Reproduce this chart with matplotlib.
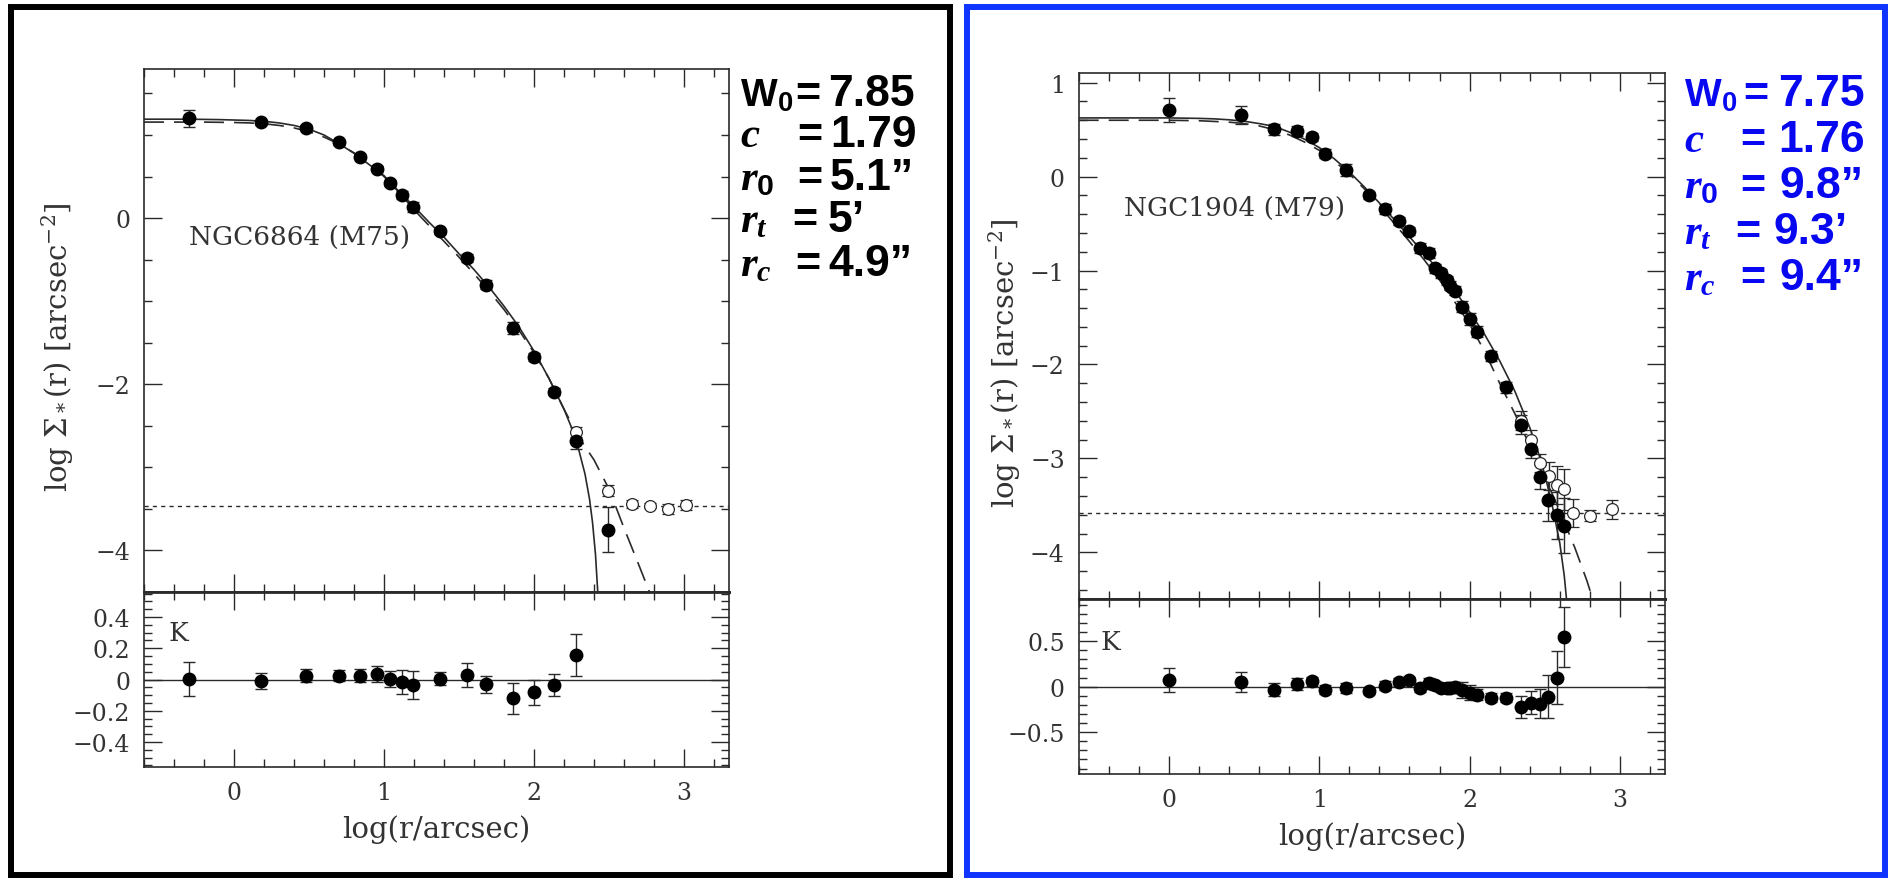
import matplotlib
matplotlib.use("Agg")
import matplotlib.pyplot as plt
from matplotlib.patches import Rectangle
from matplotlib.ticker import MultipleLocator, FuncFormatter

plt.rcParams['font.family'] = ['DejaVu Serif']
plt.rcParams['mathtext.fontset'] = 'custom'
plt.rcParams['mathtext.rm'] = 'Liberation Sans:bold'
plt.rcParams['mathtext.bf'] = 'Liberation Sans:bold'
plt.rcParams['mathtext.it'] = 'Liberation Serif:italic:bold'

# ---------------- NGC6864 (M75) ----------------
m75_logr = [-0.30, 0.18, 0.48, 0.70, 0.84, 0.95, 1.04, 1.12, 1.19, 1.37,
            1.55, 1.68, 1.86, 2.00, 2.13, 2.28, 2.49]
m75_sig = [1.20, 1.155, 1.085, 0.915, 0.74, 0.595, 0.42, 0.28, 0.13, -0.16,
           -0.48, -0.80, -1.32, -1.67, -2.09, -2.68, -3.75]
m75_err = [0.10, 0.03, 0.03, 0.03, 0.03, 0.03, 0.04, 0.05, 0.06, 0.03,
           0.05, 0.05, 0.07, 0.05, 0.04, 0.10, 0.27]
m75_open_logr = [2.28, 2.49, 2.65, 2.77, 2.89, 3.01]
m75_open_sig = [-2.58, -3.28, -3.44, -3.46, -3.50, -3.45]
m75_open_err = [0.06, 0.07, 0.05, 0.03, 0.06, 0.06]
m75_res = [0.005, -0.01, 0.025, 0.025, 0.025, 0.035, 0.005, -0.015, -0.035,
           0.005, 0.03, -0.03, -0.12, -0.08, -0.035, 0.155]
m75_res_err = [0.11, 0.05, 0.04, 0.035, 0.04, 0.05, 0.05, 0.075, 0.09,
               0.04, 0.075, 0.055, 0.10, 0.08, 0.07, 0.135]
m75_king_x = [-0.6, -0.3, -0.1, 0.0, 0.1, 0.2, 0.3, 0.4, 0.5, 0.6, 0.7, 0.8,
              0.9, 1.0, 1.1, 1.2, 1.3, 1.4, 1.5, 1.6, 1.7, 1.8, 1.9, 2.0,
              2.1, 2.2, 2.25, 2.3, 2.34, 2.37, 2.39, 2.41, 2.425]
m75_king_y = [1.19, 1.19, 1.185, 1.18, 1.175, 1.165, 1.145, 1.115, 1.07,
              1.0, 0.895, 0.78, 0.645, 0.51, 0.32, 0.14, -0.05, -0.23,
              -0.43, -0.62, -0.83, -1.06, -1.31, -1.60, -1.93, -2.30,
              -2.52, -2.80, -3.08, -3.38, -3.66, -4.05, -4.5]
m75_wil_x = [-0.6, -0.2, 0.0, 0.1, 0.2, 0.3, 0.4, 0.5, 0.6, 0.7, 0.8, 0.9,
             1.0, 1.1, 1.2, 1.3, 1.4, 1.5, 1.6, 1.7, 1.8, 1.9, 2.0, 2.1,
             2.2, 2.3, 2.4, 2.5, 2.6, 2.7, 2.77]
m75_wil_y = [1.155, 1.155, 1.15, 1.145, 1.135, 1.115, 1.085, 1.04, 0.975,
             0.89, 0.785, 0.655, 0.50, 0.31, 0.10, -0.09, -0.28, -0.47,
             -0.67, -0.88, -1.10, -1.35, -1.62, -1.93, -2.30, -2.64, -2.91,
             -3.26, -3.73, -4.18, -4.5]
m75_bg = -3.47
m75_vals = ["7.85", "1.79", "5.1\u201d", "5\u2019", "4.9\u201d"]

# ---------------- NGC1904 (M79) ----------------
m79_logr = [0.00, 0.48, 0.70, 0.85, 0.95, 1.04, 1.18, 1.33, 1.44, 1.53,
            1.60, 1.67, 1.73, 1.77, 1.81, 1.85, 1.87, 1.90, 1.95, 2.00,
            2.05, 2.14, 2.24, 2.34, 2.41, 2.47, 2.52, 2.58, 2.63]
m79_sig = [0.71, 0.655, 0.505, 0.485, 0.42, 0.245, 0.07, -0.20, -0.345,
           -0.47, -0.58, -0.76, -0.815, -0.975, -1.03, -1.105, -1.16,
           -1.215, -1.385, -1.515, -1.65, -1.91, -2.245, -2.64, -2.895,
           -3.20, -3.445, -3.605, -3.715]
m79_err = [0.13, 0.10, 0.06, 0.05, 0.04, 0.05, 0.06, 0.04, 0.05, 0.04, 0.04,
           0.05, 0.05, 0.05, 0.05, 0.05, 0.05, 0.05, 0.06, 0.06, 0.06, 0.05,
           0.06, 0.10, 0.10, 0.13, 0.22, 0.25, 0.29]
m79_open_logr = [2.34, 2.41, 2.47, 2.53, 2.58, 2.63, 2.69, 2.80, 2.95]
m79_open_sig = [-2.60, -2.80, -3.05, -3.19, -3.285, -3.33, -3.58, -3.61, -3.54]
m79_open_err = [0.10, 0.10, 0.10, 0.15, 0.20, 0.22, 0.15, 0.06, 0.10]
m79_res = [0.07, 0.05, -0.035, 0.03, 0.06, -0.035, -0.015, -0.05, 0.01,
           0.05, 0.07, -0.01, 0.04, 0.015, -0.01, -0.01, -0.01, 0.0, -0.04,
           -0.065, -0.09, -0.12, -0.12, -0.22, -0.175, -0.19, -0.11, 0.10,
           0.55]
m79_res_err = [0.13, 0.11, 0.07, 0.07, 0.05, 0.05, 0.05, 0.03, 0.05, 0.04,
               0.04, 0.05, 0.05, 0.05, 0.05, 0.05, 0.05, 0.05, 0.09, 0.08,
               0.06, 0.05, 0.05, 0.12, 0.13, 0.16, 0.24, 0.29, 0.33]
m79_king_x = [-0.6, 0.0, 0.2, 0.3, 0.4, 0.5, 0.6, 0.7, 0.8, 0.9, 1.0, 1.1,
              1.2, 1.3, 1.4, 1.5, 1.6, 1.7, 1.8, 1.9, 2.0, 2.1, 2.2, 2.3,
              2.4, 2.45, 2.5, 2.55, 2.6, 2.63, 2.645]
m79_king_y = [0.625, 0.625, 0.62, 0.615, 0.605, 0.59, 0.565, 0.535, 0.475,
              0.40, 0.31, 0.19, 0.05, -0.11, -0.28, -0.46, -0.64, -0.82,
              -1.01, -1.21, -1.44, -1.68, -1.96, -2.28, -2.67, -2.90, -3.17,
              -3.50, -3.90, -4.25, -4.5]
m79_wil_x = [-0.6, 0.0, 0.2, 0.4, 0.5, 0.6, 0.7, 0.8, 0.9, 1.0, 1.1, 1.2,
             1.3, 1.4, 1.5, 1.6, 1.7, 1.8, 1.9, 2.0, 2.1, 2.2, 2.3, 2.4,
             2.5, 2.6, 2.7, 2.78, 2.82]
m79_wil_y = [0.60, 0.60, 0.595, 0.58, 0.565, 0.54, 0.50, 0.445, 0.37, 0.28,
             0.165, 0.03, -0.13, -0.31, -0.50, -0.69, -0.89, -1.10, -1.33,
             -1.57, -1.86, -2.20, -2.52, -2.86, -3.20, -3.56, -3.95, -4.30,
             -4.5]
m79_bg = -3.58
m79_vals = ["7.75", "1.76", "9.8\u201d", "9.3\u2019", "9.4\u201d"]

par_names = [r'$\mathrm{W}_{\mathrm{0}}$', r'$c$', r'$r_{\mathit{0}}$',
             r'$r_t$', r'$r_c$']
par_sizes = [28, 31, 31, 31, 31]

W, H = 1890, 879
fig = plt.figure(figsize=(W / 100, H / 100), dpi=100)
ink = '#2a2a2a'
grey_txt = '#333333'


def px_box(x0, x1, ytop, ybot):
    return [x0 / W, 1 - ybot / H, (x1 - x0) / W, (ybot - ytop) / H]


def tick_fmt(v, pos):
    s = f"{v:g}"
    if s in ("-0", "0"):
        return "0"
    return s.replace("-", "\u2212")


def style_axes(ax):
    ax.tick_params(which='both', direction='in', top=True, right=True,
                   color=ink, labelcolor=grey_txt, labelsize=17, pad=10)
    ax.tick_params(which='major', length=13, width=1.0)
    ax.tick_params(which='minor', length=6, width=1.0)
    ax.yaxis.set_major_formatter(FuncFormatter(tick_fmt))
    for sp in ax.spines.values():
        sp.set_linewidth(1.2)
        sp.set_color(ink)


def draw_cluster(box, ylim_up, ylim_low, ymaj_up, ymin_up, ymaj_low, ymin_low,
                 logr, sig, err, o_logr, o_sig, o_err, res, res_err,
                 kx, ky, wx, wy, bg, name, name_y, k_pos, ylab_pos):
    x0, x1, ytop, ysep, ybot = box
    ax = fig.add_axes(px_box(x0, x1, ytop, ysep))
    axr = fig.add_axes(px_box(x0, x1, ysep, ybot), sharex=ax)

    ax.plot(kx, ky, color=ink, lw=1.2)
    ax.plot(wx, wy, color=ink, lw=1.2, ls=(0, (12, 6)))
    ax.axhline(bg, color=ink, lw=1.0, ls=(0, (3, 3)))
    ax.errorbar(o_logr, o_sig, yerr=o_err, fmt='o', ms=8.5, mfc='white',
                mec=ink, mew=0.9, ecolor=ink, elinewidth=1, capsize=4.5,
                capthick=1)
    ax.errorbar(logr, sig, yerr=err, fmt='o', ms=9, color='black',
                ecolor=ink, elinewidth=1, capsize=4.5, capthick=1)
    ax.text(-0.3, name_y, name, fontsize=19, color=grey_txt)

    ax.set_xlim(-0.6, 3.3)
    ax.set_ylim(*ylim_up)
    ax.xaxis.set_major_locator(MultipleLocator(1))
    ax.xaxis.set_minor_locator(MultipleLocator(0.2))
    ax.yaxis.set_major_locator(MultipleLocator(ymaj_up))
    ax.yaxis.set_minor_locator(MultipleLocator(ymin_up))
    style_axes(ax)
    ax.tick_params(labelbottom=False)
    ax.spines['bottom'].set_linewidth(2.0)
    ax.set_ylabel(r'log $\Sigma_*$(r) [arcsec$^{-2}$]', fontsize=21,
                  color=grey_txt, math_fontfamily='dejavuserif')
    ax.yaxis.label.set_va('center')
    ax.yaxis.set_label_coords(*ylab_pos)

    n = len(res)
    axr.axhline(0, color=ink, lw=1.0)
    axr.errorbar(logr[:n], res, yerr=res_err, fmt='o', ms=9, color='black',
                 ecolor=ink, elinewidth=1, capsize=4.5, capthick=1)
    axr.text(k_pos[0], k_pos[1], 'K', fontsize=19, color=grey_txt,
             ha='center', va='center')
    axr.set_ylim(*ylim_low)
    axr.yaxis.set_major_locator(MultipleLocator(ymaj_low))
    axr.yaxis.set_minor_locator(MultipleLocator(ymin_low))
    style_axes(axr)
    axr.spines['top'].set_linewidth(2.0)
    axr.set_xlabel('log(r/arcsec)', fontsize=21, color=grey_txt)
    axr.xaxis.label.set_va('center')
    axr.xaxis.set_label_coords(0.5, -62 / (ybot - ysep))


draw_cluster((144, 729, 69.5, 593, 768), (-4.5, 1.8), (-0.56, 0.56),
             2, 0.5, 0.2, 0.05,
             m75_logr, m75_sig, m75_err, m75_open_logr, m75_open_sig,
             m75_open_err, m75_res, m75_res_err, m75_king_x, m75_king_y,
             m75_wil_x, m75_wil_y, m75_bg, 'NGC6864 (M75)', -0.31,
             (-0.37, 0.3), (-0.147, 0.47))
draw_cluster((1078.7, 1665, 74.3, 600.3, 775), (-4.5, 1.1), (-0.96, 0.96),
             1, 0.2, 0.5, 0.1,
             m79_logr, m79_sig, m79_err, m79_open_logr, m79_open_sig,
             m79_open_err, m79_res, m79_res_err, m79_king_x, m79_king_y,
             m79_wil_x, m79_wil_y, m79_bg, 'NGC1904 (M79)', -0.41,
             (-0.39, 0.5), (-0.127, 0.45))

# parameter annotations: name, "=" sign and value placed separately
left_base = [106, 147, 190, 232, 276]
left_eq = [795, 797, 797, 792, 795]
left_num = [828, 830, 830, 828, 828]
right_base = [106, 152, 198, 244, 290]
right_eq = [1743, 1740, 1740, 1735, 1740]
right_num = [1778, 1778, 1780, 1774, 1780]
blue = '#0808f0'
for i in range(5):
    for xs, base, eqx, numx, vals, col in (
            (740, left_base, left_eq, left_num, m75_vals, 'black'),
            (1684, right_base, right_eq, right_num, m79_vals, blue)):
        y = 1 - base[i] / H
        fig.text(xs / W, y, par_names[i], fontsize=par_sizes[i], color=col,
                 va='baseline')
        fig.text(eqx[i] / W, y, '=', fontsize=31, color=col, va='baseline',
                 family='Liberation Sans', weight='bold')
        fig.text(numx[i] / W, y, vals[i], fontsize=32, color=col,
                 va='baseline', family='Liberation Sans', weight='bold')

# frames around the two halves
fig.add_artist(Rectangle((10.8 / W, 1 - 876 / H), (950.5 - 10.8) / W,
                         (876 - 8) / H, transform=fig.transFigure,
                         fill=False, lw=4.3, ec='black'))
fig.add_artist(Rectangle((967 / W, 1 - 876 / H), (1885 - 967) / W,
                         (876 - 8) / H, transform=fig.transFigure,
                         fill=False, lw=4.3, ec='#1034ff'))

fig.savefig('out.png', dpi=100)
